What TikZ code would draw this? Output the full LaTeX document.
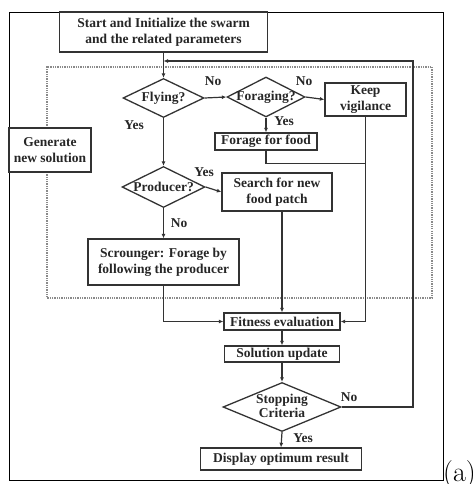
\documentclass[tikz,border=0pt]{standalone}
\usepackage{fontspec}
\newfontfamily\tnr{Liberation Serif}
\usetikzlibrary{shapes.geometric,arrows.meta}
\definecolor{ln}{HTML}{333333}
\definecolor{tx}{HTML}{262626}
\definecolor{dotc}{HTML}{8A8A8A}
\begin{document}
\begin{tikzpicture}[x=1pt,y=-1pt,
  every node/.style={font=\tnr\bfseries\fontsize{13.5}{16}\selectfont, text=tx},
  box/.style={draw=ln, line width=1.3pt, rectangle, inner sep=0pt, align=center},
  dia/.style={draw=ln, line width=1.3pt, diamond, inner sep=0pt, align=center},
  lbl/.style={inner sep=0pt},
  arr/.style={draw=ln, line width=1.2pt, -{Latex[length=4.5pt,width=4pt]}},
  ln/.style={draw=ln, line width=1.2pt}]
\useasboundingbox (0,0) rectangle (472,484);
% outer frame
\draw[black, line width=0.9pt] (9,12) rectangle (443,480);
\node[lbl, anchor=base west, font=\rmfamily\fontsize{28}{30}\selectfont, text=black] (fig) at (443,481) {(a)};
% dotted region
\draw[dotc, densely dotted, line width=1.3pt] (47,128) -- (47,67) -- (432,67) -- (432,298) -- (47,298) -- (47,172);
% nodes
\node[box, minimum width=208, minimum height=40] (start) at (163.5,32) {Start and Initialize the swarm\\and the related parameters};
\node[dia, minimum width=81, minimum height=39] (fly) at (163.5,98) {\makebox[0pt]{Flying?}};
\node[dia, minimum width=78, minimum height=40] (forg) at (266,97) {\makebox[0pt]{Foraging?}};
\node[box, minimum width=81, minimum height=33] (keep) at (365.5,99.5) {Keep\\vigilance};
\node[box, minimum width=102, minimum height=17] (forage) at (266,141.5) {Forage for food};
\node[box, minimum width=82, minimum height=44] (gen) at (50,150) {Generate\\new solution};
\node[dia, minimum width=83, minimum height=41] (prod) at (163.5,187) {\makebox[0pt]{Producer?}};
\node[box, minimum width=110, minimum height=38] (search) at (277,192) {Search for new\\food patch};
\node[box, minimum width=151, minimum height=46] (scr) at (163.5,262) {Scrounger: Forage by\\following the producer};
\node[box, minimum width=116, minimum height=17] (fit) at (282,321.5) {Fitness evaluation};
\node[box, minimum width=115, minimum height=16] (sol) at (282,354) {Solution update};
\node[dia, minimum width=118, minimum height=49] (stop) at (282,407) {\makebox[0pt]{\begin{tabular}{@{}c@{}}Stopping\\[-2pt]Criteria\end{tabular}}};
\node[box, minimum width=161, minimum height=22] (disp) at (281,459) {Display optimum result};
% labels
\node[lbl] (l1) at (213,81) {No};
\node[lbl] (l2) at (134,125) {Yes};
\node[lbl] (l3) at (304,81) {No};
\node[lbl] (l4) at (284,121) {Yes};
\node[lbl] (l5) at (204,172) {Yes};
\node[lbl] (l6) at (179,223) {No};
\node[lbl] (l7) at (349,397) {No};
\node[lbl] (l8) at (303,438) {Yes};
% connectors
\coordinate (fb) at (413,61);
\coordinate (fbin) at (163.5,61);
\draw[arr] (start.south) -- (fly.north);
\draw[arr] (stop.east) -| (fb) -- (fbin);
\draw[arr] (fly.east) -- (forg.west);
\draw[arr] (forg.east) -- (keep.west);
\draw[arr] (forg.south) -- (forage.north);
\draw[ln] (forage.south) -- ++(0,13) -| (keep.south);
\draw[arr] (keep.south) |- (fit.east);
\draw[arr] (fly.south) -- (prod.north);
\draw[arr] (prod.east) -- (search.west);
\draw[arr] (prod.south) -- (scr.north);
\draw[arr] (fit.north |- search.south) -- (fit.north);
\draw[arr] (scr.south) |- (fit.west);
\draw[arr] (fit.south) -- (sol.north);
\draw[arr] (sol.south) -- (stop.north);
\draw[arr] (stop.south) -- (disp.north);
\end{tikzpicture}
\end{document}
